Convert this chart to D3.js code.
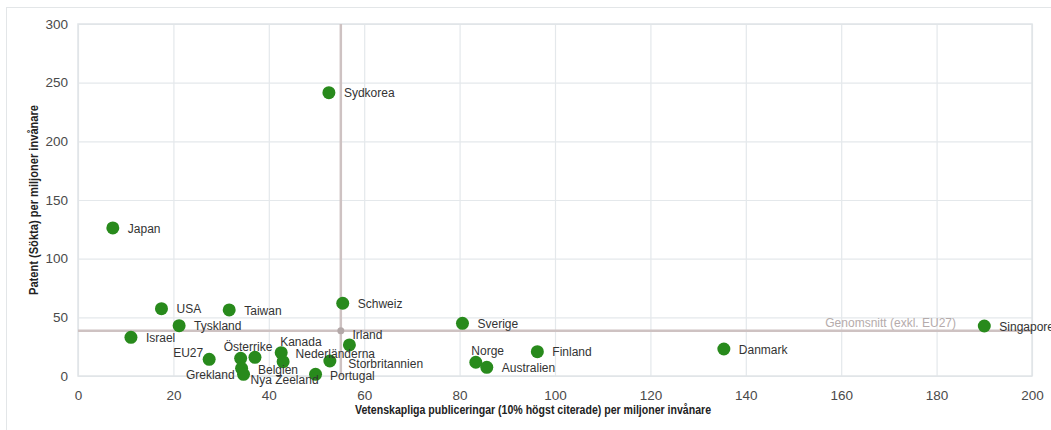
<!DOCTYPE html>
<html>
<head>
<meta charset="utf-8">
<script src="https://cdn.jsdelivr.net/npm/d3@7/dist/d3.min.js"></script>
<style>
  html, body { margin: 0; padding: 0; background: #fff; }
  svg { display: block; }
</style>
</head>
<body>
<svg id="chart" width="1051" height="430"></svg>
<script>
// ---- data ----
const countries = ["Sydkorea","Japan","USA","Tyskland","Israel","EU27","Taiwan","Schweiz","Irland",
  "Österrike","Belgien","Grekland","Nya Zeeland","Kanada","Nederländerna","Storbritannien","Portugal",
  "Sverige","Norge","Australien","Finland","Danmark","Singapore"];
const publications = [52.6, 7.3, 17.5, 21.2, 11.1, 27.5, 31.7, 55.5, 56.9,
  34.1, 37.1, 34.3, 34.7, 42.6, 43.0, 52.8, 49.8,
  80.6, 83.4, 85.7, 96.3, 135.4, 190.0];
const patents = [241.5, 126.2, 57.4, 42.9, 33.0, 14.2, 56.3, 62.0, 26.5,
  15.1, 15.9, 6.5, 1.4, 19.9, 12.2, 12.8, 1.4,
  44.9, 11.7, 7.4, 20.7, 23.0, 42.6];
const xTicks = [0, 20, 40, 60, 80, 100, 120, 140, 160, 180, 200];
const yTicks = [0, 50, 100, 150, 200, 250, 300];
const averagePublications = 55.1;
const averagePatents = 38.6;
const averageLabel = "Genomsnitt (exkl. EU27)";
const xTitle = "Vetenskapliga publiceringar (10% högst citerade) per miljoner invånare";
const yTitle = "Patent (Sökta) per miljoner invånare";

// label placement (pixel offsets from point, style only)
const labelOffsets = {
  "Irland": [3, -10, "start"],
  "EU27": [-6, -7, "end"],
  "Österrike": [-17, -11.5, "start"],
  "Belgien": [3, 12, "start"],
  "Grekland": [-7, 6.5, "end"],
  "Nya Zeeland": [7, 5.5, "start"],
  "Kanada": [-1, -11, "start"],
  "Nederländerna": [12.5, -7.5, "start"],
  "Storbritannien": [18.5, 2.5, "start"],
  "Portugal": [14.5, 1.5, "start"],
  "Norge": [-4.5, -11.5, "start"]
};

// ---- layout ----
const svg = d3.select("#chart");
const margin = {left: 78, top: 24, right: 19, bottom: 54};
const W = 1051, H = 430;
const width = W - margin.left - margin.right;
const height = H - margin.top - margin.bottom;

// outer border
svg.append("rect").attr("x", 6.5).attr("y", 7.5).attr("width", 1100).attr("height", 500)
  .attr("fill", "none").attr("stroke", "#e3e6e8").attr("stroke-width", 1);

const g = svg.append("g").attr("transform", `translate(${margin.left},${margin.top})`);

const x = d3.scaleLinear().domain([0, 200]).range([0, width]);
const y = d3.scaleLinear().domain([0, 300]).range([height, 0]);

// gridlines
const gridX = g.append("g").attr("transform", `translate(0,${height})`)
  .call(d3.axisBottom(x).tickValues(xTicks).tickSize(-height).tickFormat(""));
gridX.select(".domain").remove();
gridX.selectAll("line").attr("stroke", "#e4e8eb").attr("stroke-width", 1.2);

const gridY = g.append("g")
  .call(d3.axisLeft(y).tickValues(yTicks).tickSize(-width).tickFormat(""));
gridY.select(".domain").remove();
gridY.selectAll("line").attr("stroke", "#e4e8eb").attr("stroke-width", 1.2);

// frame
g.append("rect").attr("x", 0).attr("y", 0).attr("width", width).attr("height", height)
  .attr("fill", "none").attr("stroke", "#e0e4e7").attr("stroke-width", 1.5);

// tick labels
const xAxis = g.append("g").attr("transform", `translate(0,${height})`)
  .call(d3.axisBottom(x).tickValues(xTicks).tickSize(0).tickPadding(14));
xAxis.select(".domain").remove();
xAxis.selectAll("text").attr("font-family", "'Liberation Sans', Arial, sans-serif")
  .attr("font-size", "13.5px").attr("fill", "#4a4a4a");

const yAxis = g.append("g")
  .call(d3.axisLeft(y).tickValues(yTicks).tickSize(0).tickPadding(10));
yAxis.select(".domain").remove();
yAxis.selectAll("text").attr("font-family", "'Liberation Sans', Arial, sans-serif")
  .attr("font-size", "13.5px").attr("fill", "#4a4a4a");

// average lines
const avgColor = "#cec2c2";
g.append("line").attr("x1", x(averagePublications)).attr("x2", x(averagePublications))
  .attr("y1", y(300)).attr("y2", y(0)).attr("stroke", avgColor).attr("stroke-width", 2.5);
g.append("line").attr("x1", x(0)).attr("x2", x(200))
  .attr("y1", y(averagePatents)).attr("y2", y(averagePatents)).attr("stroke", avgColor).attr("stroke-width", 2.5);

g.append("text").attr("x", x(200) - 76).attr("y", y(averagePatents) - 7.5)
  .attr("text-anchor", "end").attr("dy", "0.35em")
  .attr("font-family", "'Liberation Sans', Arial, sans-serif").attr("font-size", "12px")
  .attr("fill", "#b5abab").text(averageLabel);

const data = countries.map((c, i) => ({name: c, px: publications[i], pt: patents[i]}));

// points
g.selectAll("circle.pt").data(data).enter().append("circle").attr("class", "pt")
  .attr("cx", d => x(d.px)).attr("cy", d => y(d.pt)).attr("r", 6.5)
  .attr("fill", "#288a1c");

// intersection dot
g.append("circle").attr("cx", x(averagePublications)).attr("cy", y(averagePatents))
  .attr("r", 3.5).attr("fill", "#b3a8a8");

// labels
g.selectAll("text.lbl").data(data).enter().append("text").attr("class", "lbl")
  .attr("x", d => x(d.px) + (labelOffsets[d.name] ? labelOffsets[d.name][0] : 15))
  .attr("y", d => y(d.pt) + (labelOffsets[d.name] ? labelOffsets[d.name][1] : 0.5))
  .attr("dy", "0.35em")
  .attr("text-anchor", d => labelOffsets[d.name] ? labelOffsets[d.name][2] : "start")
  .attr("font-family", "'Liberation Sans', Arial, sans-serif").attr("font-size", "12px")
  .attr("fill", "#333")
  .text(d => d.name);

// axis titles
svg.append("text").attr("x", 533).attr("y", 410).attr("dy", "0.35em")
  .attr("text-anchor", "middle")
  .attr("font-family", "'Liberation Sans Narrow', 'Liberation Sans', Arial, sans-serif")
  .attr("font-weight", "bold").attr("font-size", "12px").attr("fill", "#222")
  .attr("textLength", 356).attr("lengthAdjust", "spacingAndGlyphs")
  .text(xTitle);

svg.append("text").attr("transform", `translate(34,${margin.top + height / 2}) rotate(-90)`)
  .attr("text-anchor", "middle").attr("dy", "0.35em")
  .attr("font-family", "'Liberation Sans Narrow', 'Liberation Sans', Arial, sans-serif")
  .attr("font-weight", "bold").attr("font-size", "12px").attr("fill", "#222")
  .attr("textLength", 190).attr("lengthAdjust", "spacingAndGlyphs")
  .text(yTitle);
</script>
</body>
</html>
